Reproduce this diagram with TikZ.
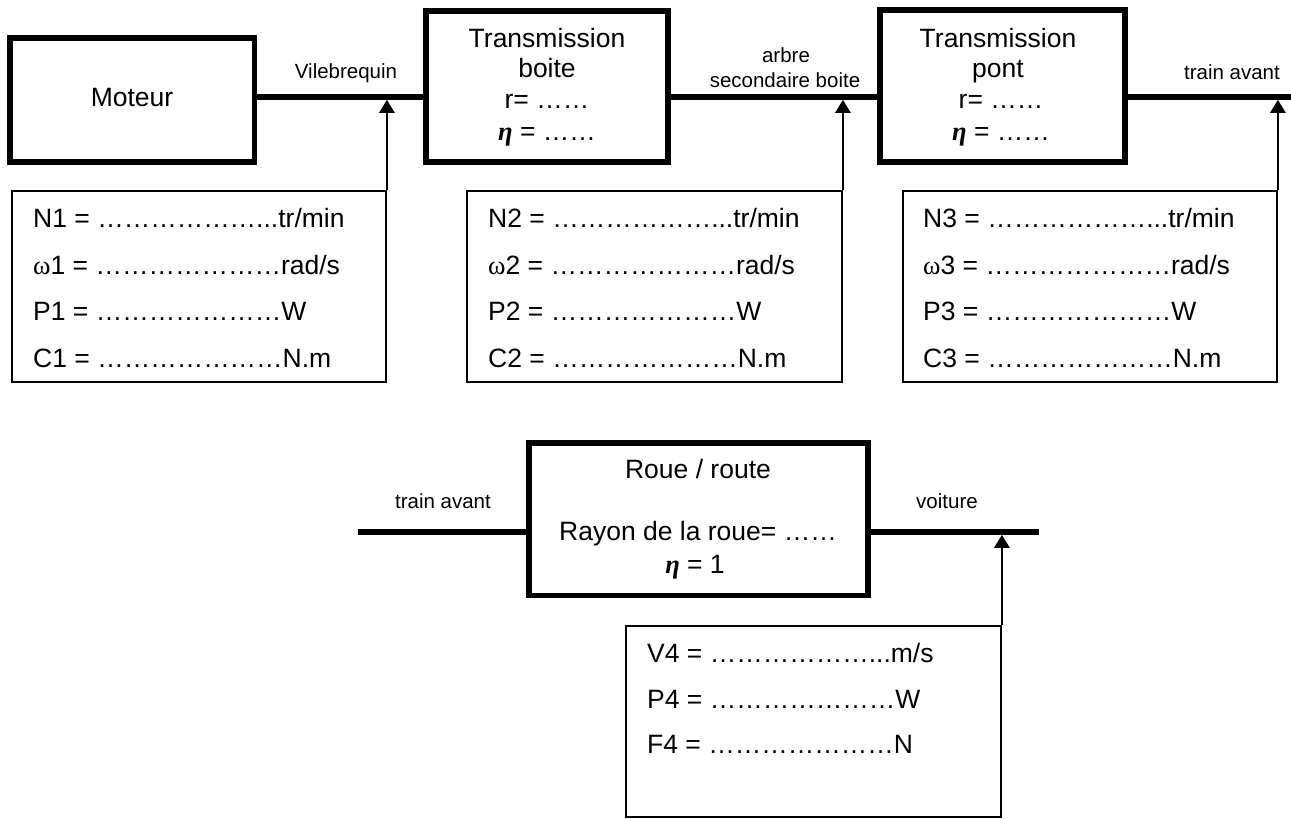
\documentclass[tikz,border=0pt]{standalone}
\usepackage{fontspec}
\setmainfont{Liberation Sans}
\newfontfamily\grk{Liberation Serif}
\usetikzlibrary{arrows.meta}
\newcommand{\etab}{{\grk\bfseries\itshape η}}
\newcommand{\omg}{{\grk ω}}
\newcommand{\El}{…}
\newcommand{\dd}{\El\El}
\newcommand{\dsix}{\El\El\El\El\El\El...}
\newcommand{\dsev}{\El\El\El\El\El\El\El}
\begin{document}
\begin{tikzpicture}[x=1pt,y=-1pt,
  blk/.style={draw, line width=5.5pt, inner sep=0pt, rectangle},
  info/.style={draw, line width=1.8pt, inner sep=0pt, rectangle},
  shaft/.style={line width=5.7pt},
  arr/.style={line width=2.5pt, -{Triangle[width=15pt,length=13pt]}},
  big/.style={inner sep=0pt, anchor=base, font=\fontsize{26.5}{31.8}\selectfont},
  lbl/.style={inner sep=0pt, anchor=base, font=\fontsize{20.5}{24.6}\selectfont},
  line/.style={inner sep=0pt, anchor=base west, font=\fontsize{26.5}{31.8}\selectfont}
]
\useasboundingbox (0,0) rectangle (1291,819);

% coordinates of shaft levels
\coordinate (shA) at (0,97);
\coordinate (shAb) at (0,99.75);
\coordinate (endA) at (1291,97);
\coordinate (shB) at (0,532);
\coordinate (shBb) at (0,534.75);
\coordinate (startB) at (358,532);
\coordinate (endB) at (1039,532);

% top blocks
\node[blk, minimum width=244.5pt, minimum height=124pt] (mot) at (132.25,100) {};
\node[blk, minimum width=242pt, minimum height=151pt] (tb) at (547,86.5) {};
\node[blk, minimum width=245pt, minimum height=152pt] (tp) at (1002.5,86) {};

% info boxes
\node[info, minimum width=374pt, minimum height=191pt] (i1) at (199,286.5) {};
\node[info, minimum width=375pt, minimum height=191pt] (i2) at (654.5,286.5) {};
\node[info, minimum width=374pt, minimum height=191pt] (i3) at (1090,286.5) {};

% shafts
\draw[shaft] (mot.east |- shA) -- (tb.west |- shA);
\draw[shaft] (tb.east |- shA) -- (tp.west |- shA);
\draw[shaft] (tp.east |- shA) -- (endA);

% arrows
\coordinate (a1) at (i1.north east |- shAb);
\coordinate (a2) at (i2.north east |- shAb);
\coordinate (a3) at (i3.north east |- shAb);
\draw[arr] (i1.north east) -- (a1);
\draw[arr] (i2.north east) -- (a2);
\draw[arr] (i3.north east) -- (a3);

% texts top
\node[big] (tmot) at (132,106) {Moteur};
\node[lbl] (tvil) at (346,78) {Vilebrequin};
\node[big] (tb1) at (547,47) {Transmission};
\node[big] (tb2) at (547,77) {boite};
\node[big] (tb3) at (547,108) {r= \dd};
\node[big] (tb4) at (547,140) {\etab{} = \dd};
\node[lbl] (tarb1) at (786,62) {arbre};
\node[lbl] (tarb2) at (785,87) {secondaire boite};
\node[big] (tp1) at (998,47) {Transmission};
\node[big] (tp2) at (998,77) {pont};
\node[big] (tp3) at (1001,108) {r= \dd};
\node[big] (tp4) at (1001,140) {\etab{} = \dd};
\node[lbl] (ttra) at (1232,79) {train avant};

% info texts
\node[line] (n1) at (33,227) {N1 = \dsix tr/min};
\node[line] (w1) at (33,274) {\omg1 = \dsev rad/s};
\node[line] (p1) at (33,320) {P1 = \dsev W};
\node[line] (c1) at (33,367) {C1 = \dsev N.m};
\node[line] (n2) at (488,227) {N2 = \dsix tr/min};
\node[line] (w2) at (488,274) {\omg2 = \dsev rad/s};
\node[line] (p2) at (488,320) {P2 = \dsev W};
\node[line] (c2) at (488,367) {C2 = \dsev N.m};
\node[line] (n3) at (923,227) {N3 = \dsix tr/min};
\node[line] (w3) at (923,274) {\omg3 = \dsev rad/s};
\node[line] (p3) at (923,320) {P3 = \dsev W};
\node[line] (c3) at (923,367) {C3 = \dsev N.m};

% bottom
\node[blk, minimum width=339pt, minimum height=152.5pt] (rr) at (698.5,519.25) {};
\node[info, minimum width=375pt, minimum height=191pt] (i4) at (813.5,721.5) {};
\draw[shaft] (startB) -- (rr.west |- shB);
\draw[shaft] (rr.east |- shB) -- (endB);
\coordinate (a4) at (i4.north east |- shBb);
\draw[arr] (i4.north east) -- (a4);

\node[big] (rr1) at (698,478) {Roue / route};
\node[big] (rr2) at (698,540) {Rayon de la roue= \dd};
\node[big] (rr3) at (695,573) {\etab{} = 1};
\node[lbl] (ttrb) at (443,508) {train avant};
\node[lbl] (tvoi) at (947,508) {voiture};

\node[line] (v4) at (647,662) {V4 = \dsix m/s};
\node[line] (p4) at (647,708) {P4 = \dsev W};
\node[line] (f4) at (647,753) {F4 = \dsev N};
\end{tikzpicture}
\end{document}
